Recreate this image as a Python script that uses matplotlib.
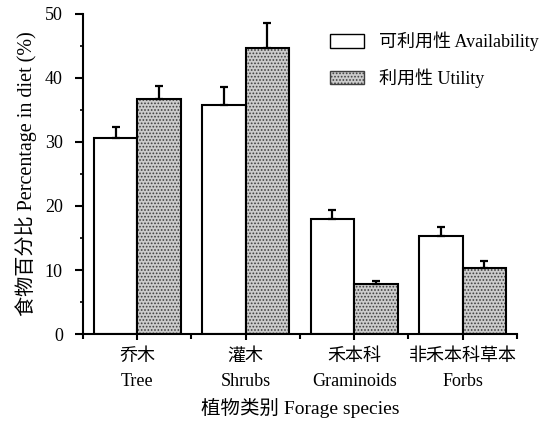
import matplotlib
matplotlib.use("Agg")
import matplotlib.pyplot as plt
import numpy as np
from matplotlib.patches import Patch
from matplotlib.ticker import MultipleLocator, FixedLocator

plt.rcParams['font.family'] = ['Liberation Serif', 'Noto Sans CJK SC', 'DejaVu Sans']
plt.rcParams['hatch.linewidth'] = 0.8

categories = ["乔木\nTree", "灌木\nShrubs", "禾本科\nGraminoids", "非禾本科草本\nForbs"]
availability = [30.6, 35.7, 17.9, 15.3]
availability_err = [1.7, 2.9, 1.4, 1.4]
utility = [36.7, 44.7, 7.75, 10.25]
utility_err = [2.0, 3.9, 0.55, 1.15]
legend_labels = ["可利用性 Availability", "利用性 Utility"]

fig = plt.figure(figsize=(5.39, 4.23), dpi=100)
ax = fig.add_axes([0.154, 0.210, 0.805, 0.758])

x = np.arange(len(categories))
w = 0.4
lw = 1.5

# availability bars
ax.bar(x - w, availability, width=w, align='edge', facecolor='white',
       edgecolor='black', linewidth=lw, zorder=2)
# utility bars: stipple layer then outline
ax.bar(x, utility, width=w, align='edge', facecolor='#cccccc',
       edgecolor='#404040', hatch='.....', linewidth=0, zorder=2)
ax.bar(x, utility, width=w, align='edge', fill=False,
       edgecolor='black', linewidth=lw, zorder=3)

zeros = np.zeros(len(categories))
ax.errorbar(x - w / 2, availability, yerr=[zeros, availability_err], fmt='none',
            ecolor='black', elinewidth=1.6, capsize=3, capthick=1.6, zorder=4)
ax.errorbar(x + w / 2, utility, yerr=[zeros, utility_err], fmt='none',
            ecolor='black', elinewidth=1.6, capsize=3, capthick=1.6, zorder=4)

ax.set_xlim(-0.5, 3.5)
ax.set_ylim(0, 50)
for s in ['top', 'right']:
    ax.spines[s].set_visible(False)
for s in ['left', 'bottom']:
    ax.spines[s].set_linewidth(1.5)

ax.set_xticks(x)
ax.set_xticklabels(categories, fontsize=13, linespacing=1.6)
ax.xaxis.set_minor_locator(FixedLocator([-0.5, 0.5, 1.5, 2.5, 3.5]))
ax.yaxis.set_major_locator(MultipleLocator(10))
ax.yaxis.set_minor_locator(MultipleLocator(5))
ax.tick_params(axis='x', which='major', direction='out', length=4, width=1.5, pad=6)
ax.tick_params(axis='x', which='minor', direction='out', length=3.5, width=1.5)
ax.tick_params(axis='y', which='major', direction='out', length=5.5, width=1.5, pad=9, labelsize=13)
ax.tick_params(axis='y', which='minor', direction='out', length=2.5, width=1.2)

ax.set_ylabel("食物百分比 Percentage in diet (%)", fontsize=14.5, labelpad=6)
ax.set_xlabel("植物类别 Forage species", fontsize=14, labelpad=6)

handles = [
    Patch(facecolor='white', edgecolor='black', linewidth=1.0),
    Patch(facecolor='#cccccc', edgecolor='#404040', hatch='.....', linewidth=1.0),
]
ax.legend(handles, legend_labels, loc='upper left', bbox_to_anchor=(0.612, 0.925),
          bbox_transform=fig.transFigure, frameon=False, fontsize=13,
          handlelength=1.9, handleheight=0.75, labelspacing=0.95,
          borderpad=0, borderaxespad=0, handletextpad=0.8)

fig.savefig("out.png", dpi=100)
